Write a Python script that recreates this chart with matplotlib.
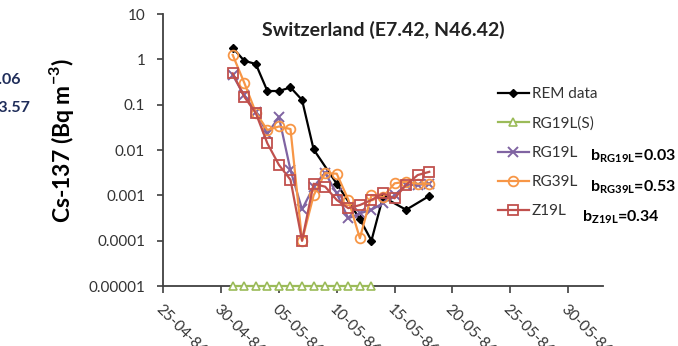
import matplotlib
matplotlib.use("Agg")
import matplotlib.pyplot as plt
from matplotlib.ticker import NullLocator, FixedLocator
from datetime import datetime, timedelta

plt.rcParams['font.family'] = ['Lato', 'DejaVu Sans']
plt.rcParams['mathtext.fontset'] = 'custom'
plt.rcParams['mathtext.rm'] = 'Lato'
plt.rcParams['mathtext.bf'] = 'Lato:bold'
plt.rcParams['axes.unicode_minus'] = False

# ---- data (Cs-137 air concentration, Bq m-3) ----
rem_dates = ["1986-05-01", "1986-05-02", "1986-05-03", "1986-05-04", "1986-05-05",
             "1986-05-06", "1986-05-07", "1986-05-08", "1986-05-10", "1986-05-12",
             "1986-05-13", "1986-05-14", "1986-05-16", "1986-05-18"]
rem_values = [1.8, 0.93, 0.79, 0.2, 0.2, 0.24, 0.127, 0.0103, 0.0018, 0.0003,
              0.0001, 0.00092, 0.00048, 0.00097]

model_dates = ["1986-05-%02d" % d for d in range(1, 19)]
rg19ls_dates = ["1986-05-%02d" % d for d in range(1, 14)]
rg19ls_values = [1e-5] * 13

rg19l_values = [0.45, 0.16, 0.07, 0.023, 0.053, 0.0036, 0.00049, 0.00155, 0.0031,
                0.0011, 0.00031, 0.0004, 0.00048, 0.00067, 0.001, 0.0017, 0.0017, 0.0018]
rg39l_values = [1.25, 0.305, 0.067, 0.0276, 0.033, 0.029, 0.0001, 0.001, 0.0031,
                0.003, 0.0008, 0.000113, 0.001, 0.00092, 0.00184, 0.002, 0.0018, 0.0018]
z19l_values = [0.49, 0.15, 0.065, 0.014, 0.0047, 0.0022, 0.0001, 0.0018, 0.00155,
               0.00079, 0.00052, 0.00061, 0.00079, 0.0011, 0.00086, 0.0017, 0.0028, 0.0033]

series_labels = ["REM data", "RG19L(S)", "RG19L", "RG39L", "Z19L"]
bias_labels = [("RG19L", "0.03"), ("RG39L", "0.53"), ("Z19L", "0.34")]

y_ticks = [1e-5, 1e-4, 1e-3, 1e-2, 1e-1, 1, 10]
y_tick_labels = ["0.00001", "0.0001", "0.001", "0.01", "0.1", "1", "10"]
x_start = datetime(1986, 4, 25)
x_end = datetime(1986, 6, 2)
x_ticks = [x_start + timedelta(days=5 * i) for i in range(8)]
x_tick_labels = [d.strftime("%d-%m-%y") for d in x_ticks]


def to_dt(lst):
    return [datetime.strptime(s, "%Y-%m-%d") for s in lst]


W, H = 678, 346
fig = plt.figure(figsize=(W / 100, H / 100), dpi=100)
ax = fig.add_axes([163.3 / W, 60 / H, 439.4 / W, 272 / H])

text_col = "#333333"
axis_col = "#404040"

ax.plot(to_dt(rem_dates), rem_values, color="black", lw=1.6, marker="D", ms=4.5,
        mfc="black", mec="black", label=series_labels[0], clip_on=False, zorder=3)
ax.plot(to_dt(rg19ls_dates), rg19ls_values, color="#9BBB59", lw=1.6, marker="^", ms=6,
        mfc="white", mec="#9BBB59", mew=1.2, label=series_labels[1], clip_on=False, zorder=4)
ax.plot(to_dt(model_dates), rg19l_values, color="#8064A2", lw=1.6, marker="x", ms=6.5,
        mew=1.4, label=series_labels[2], clip_on=False, zorder=4)
ax.plot(to_dt(model_dates), rg39l_values, color="#F79646", lw=1.6, marker="o", ms=7,
        mfc="none", mec="#F79646", mew=1.3, label=series_labels[3], clip_on=False, zorder=5)
ax.plot(to_dt(model_dates), z19l_values, color="#C0504D", lw=1.6, marker="s", ms=6.5,
        mfc="none", mec="#C0504D", mew=1.3, label=series_labels[4], clip_on=False, zorder=6)

ax.set_yscale("log")
ax.set_ylim(1e-5, 10)
ax.set_xlim(x_start, x_end)
ax.yaxis.set_major_locator(FixedLocator(y_ticks))
ax.yaxis.set_minor_locator(NullLocator())
ax.set_yticklabels(y_tick_labels)
ax.set_xticks(x_ticks)
ax.set_xticklabels(x_tick_labels, rotation=-45, ha="left", va="top",
                   rotation_mode="anchor")

for side in ("top", "right"):
    ax.spines[side].set_visible(False)
for side in ("left", "bottom"):
    ax.spines[side].set_color(axis_col)
    ax.spines[side].set_linewidth(1.3)
ax.tick_params(axis="y", direction="out", length=4, width=1.2, color=axis_col,
               labelsize=11, labelcolor=text_col, pad=9)
ax.tick_params(axis="x", direction="out", length=5, width=1.2, color=axis_col,
               labelsize=11, labelcolor=text_col, pad=7)

ax.text(0.5, 0.94, "Switzerland (E7.42, N46.42)", transform=ax.transAxes,
        ha="center", va="center", fontsize=14, fontweight="bold", color="#222222")

fig.text(62 / W, 1 - 140 / H, r"Cs-137 (Bq m$^{\mathbf{-3}}$)", rotation=90,
         ha="center", va="center", fontsize=16.5, fontweight="bold", color="black")

leg = ax.legend(loc="upper left", bbox_to_anchor=(498 / W, 1 - 87 / H),
                bbox_transform=fig.transFigure, frameon=False, fontsize=11,
                handlelength=2.0, handletextpad=0.2, labelspacing=1.0,
                borderaxespad=0, borderpad=0)
for t in leg.get_texts():
    t.set_color(text_col)

bias_pos = [(590, 156), (590, 187), (582, 217)]
for (name, val), (px, py) in zip(bias_labels, bias_pos):
    fig.text(px / W, 1 - py / H, r"b$_{\mathbf{%s}}$=%s" % (name, val),
             ha="left", va="center", fontsize=11.5, fontweight="bold", color="black")

# fragments of the neighbouring panel's annotations
fig.text(21 / W, 1 - 80 / H, "0.06", ha="right", va="center", fontsize=11.5,
         fontweight="bold", color="#1f2d5a")
fig.text(31 / W, 1 - 108 / H, "=3.57", ha="right", va="center", fontsize=11.5,
         fontweight="bold", color="#1f2d5a")

fig.savefig("out.png", dpi=100)
